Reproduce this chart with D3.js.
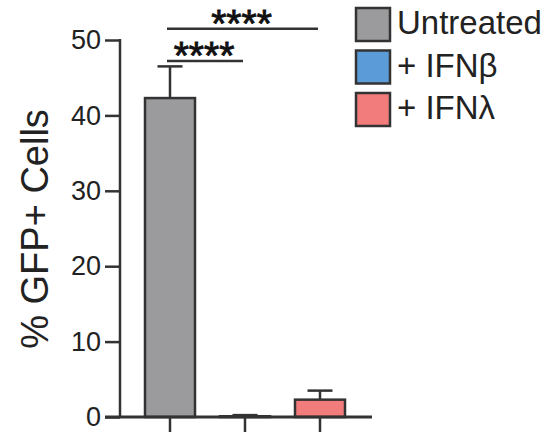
<!DOCTYPE html>
<html>
<head>
<meta charset="utf-8">
<script src="https://cdn.jsdelivr.net/npm/d3@7/dist/d3.min.js"></script>
<style>
  html, body { margin: 0; padding: 0; background: #fff; }
  svg { display: block; font-family: "Liberation Sans", Arial, Helvetica, sans-serif; }
</style>
</head>
<body>
<svg id="chart" width="552" height="433"></svg>
<script>
// Groups, mean % GFP+ cells and SEM
const groups = ["Untreated", "+ IFNβ", "+ IFNλ"];
const means = [42.3, 0.1, 2.3];
const errors = [4.2, 0.15, 1.2];
const colors = ["#9b9b9d", "#5b9bd8", "#f27b7c"];
const yTicks = [0, 10, 20, 30, 40, 50];

// Significance brackets: pair of group indices, height (data units), label
const comparisons = [
  { from: 0, to: 2, level: 51.5, label: "****" },
  { from: 0, to: 1, level: 47.2, label: "****" }
];

const svg = d3.select("#chart");
const ink = "#333";

const y = d3.scaleLinear().domain([0, 50]).range([417, 40]);
const x = d3.scaleBand()
  .domain(groups)
  .range([132.5, 357.5])
  .paddingInner(1 / 3)
  .paddingOuter(1 / 6);

const axisX = 120;

// Bars
svg.append("g").selectAll("rect")
  .data(groups)
  .join("rect")
  .attr("x", d => x(d))
  .attr("y", (d, i) => y(means[i]))
  .attr("width", x.bandwidth())
  .attr("height", (d, i) => y(0) - y(means[i]))
  .attr("fill", (d, i) => colors[i])
  .attr("stroke", ink)
  .attr("stroke-width", 2.5);

// Error bars (upper only)
const eb = svg.append("g").attr("stroke", ink).attr("stroke-width", 2.5);
groups.forEach((g, i) => {
  const cx = x(g) + x.bandwidth() / 2;
  eb.append("line")
    .attr("x1", cx).attr("x2", cx)
    .attr("y1", y(means[i])).attr("y2", y(means[i] + errors[i]));
  eb.append("line")
    .attr("x1", cx - 12.5).attr("x2", cx + 12.5)
    .attr("y1", y(means[i] + errors[i])).attr("y2", y(means[i] + errors[i]));
});

// Y axis
const yAxis = d3.axisLeft(y).tickValues(yTicks).tickSize(15).tickPadding(4);
const gy = svg.append("g").attr("transform", `translate(${axisX},0)`).call(yAxis);
gy.select(".domain").remove();
gy.append("line")
  .attr("x1", 0).attr("x2", 0)
  .attr("y1", y(50) - 1).attr("y2", y(0))
  .attr("stroke", ink).attr("stroke-width", 2.5);
gy.selectAll(".tick line").attr("stroke", ink).attr("stroke-width", 2.5);
gy.selectAll(".tick text")
  .attr("fill", "#222")
  .style("font-size", "27px")
  .style("font-family", "'Liberation Sans', Arial, sans-serif");

// X axis
const xAxis = d3.axisBottom(x).tickSize(15).tickFormat("");
const gx = svg.append("g").attr("transform", `translate(0,${y(0)})`).call(xAxis);
gx.select(".domain").remove();
gx.append("line")
  .attr("x1", 105).attr("x2", 372)
  .attr("y1", 0).attr("y2", 0)
  .attr("stroke", ink).attr("stroke-width", 3);
gx.selectAll(".tick line").attr("stroke", ink).attr("stroke-width", 2.5);

// Y axis title
svg.append("text")
  .attr("transform", `translate(48,229) rotate(-90)`)
  .attr("text-anchor", "middle")
  .attr("fill", "#222")
  .style("font-size", "38px")
  .text("% GFP+ Cells");

// Significance brackets
const sig = svg.append("g");
comparisons.forEach(c => {
  const x1 = x(groups[c.from]) + x.bandwidth() / 2 - 3;
  const x2 = x(groups[c.to]) + x.bandwidth() / 2 - 2;
  sig.append("line")
    .attr("x1", x1).attr("x2", x2)
    .attr("y1", y(c.level)).attr("y2", y(c.level))
    .attr("stroke", ink).attr("stroke-width", 2.5);
  sig.append("text")
    .attr("x", (x1 + x2) / 2 - 1)
    .attr("y", y(c.level) + 8)
    .attr("text-anchor", "middle")
    .attr("fill", "#111")
    .attr("stroke", "#111")
    .attr("stroke-width", 0.9)
    .style("font-size", "39px")
    .text(c.label);
});

// Legend
const legend = svg.append("g").attr("transform", "translate(356,8)");
groups.forEach((g, i) => {
  const row = legend.append("g").attr("transform", `translate(0,${i * 42.5})`);
  row.append("rect")
    .attr("width", 34).attr("height", 33)
    .attr("fill", colors[i])
    .attr("stroke", ink).attr("stroke-width", 2.5);
  row.append("text")
    .attr("x", 41).attr("y", 26)
    .attr("fill", "#222")
    .style("font-size", "33px")
    .text(g);
});
</script>
</body>
</html>
